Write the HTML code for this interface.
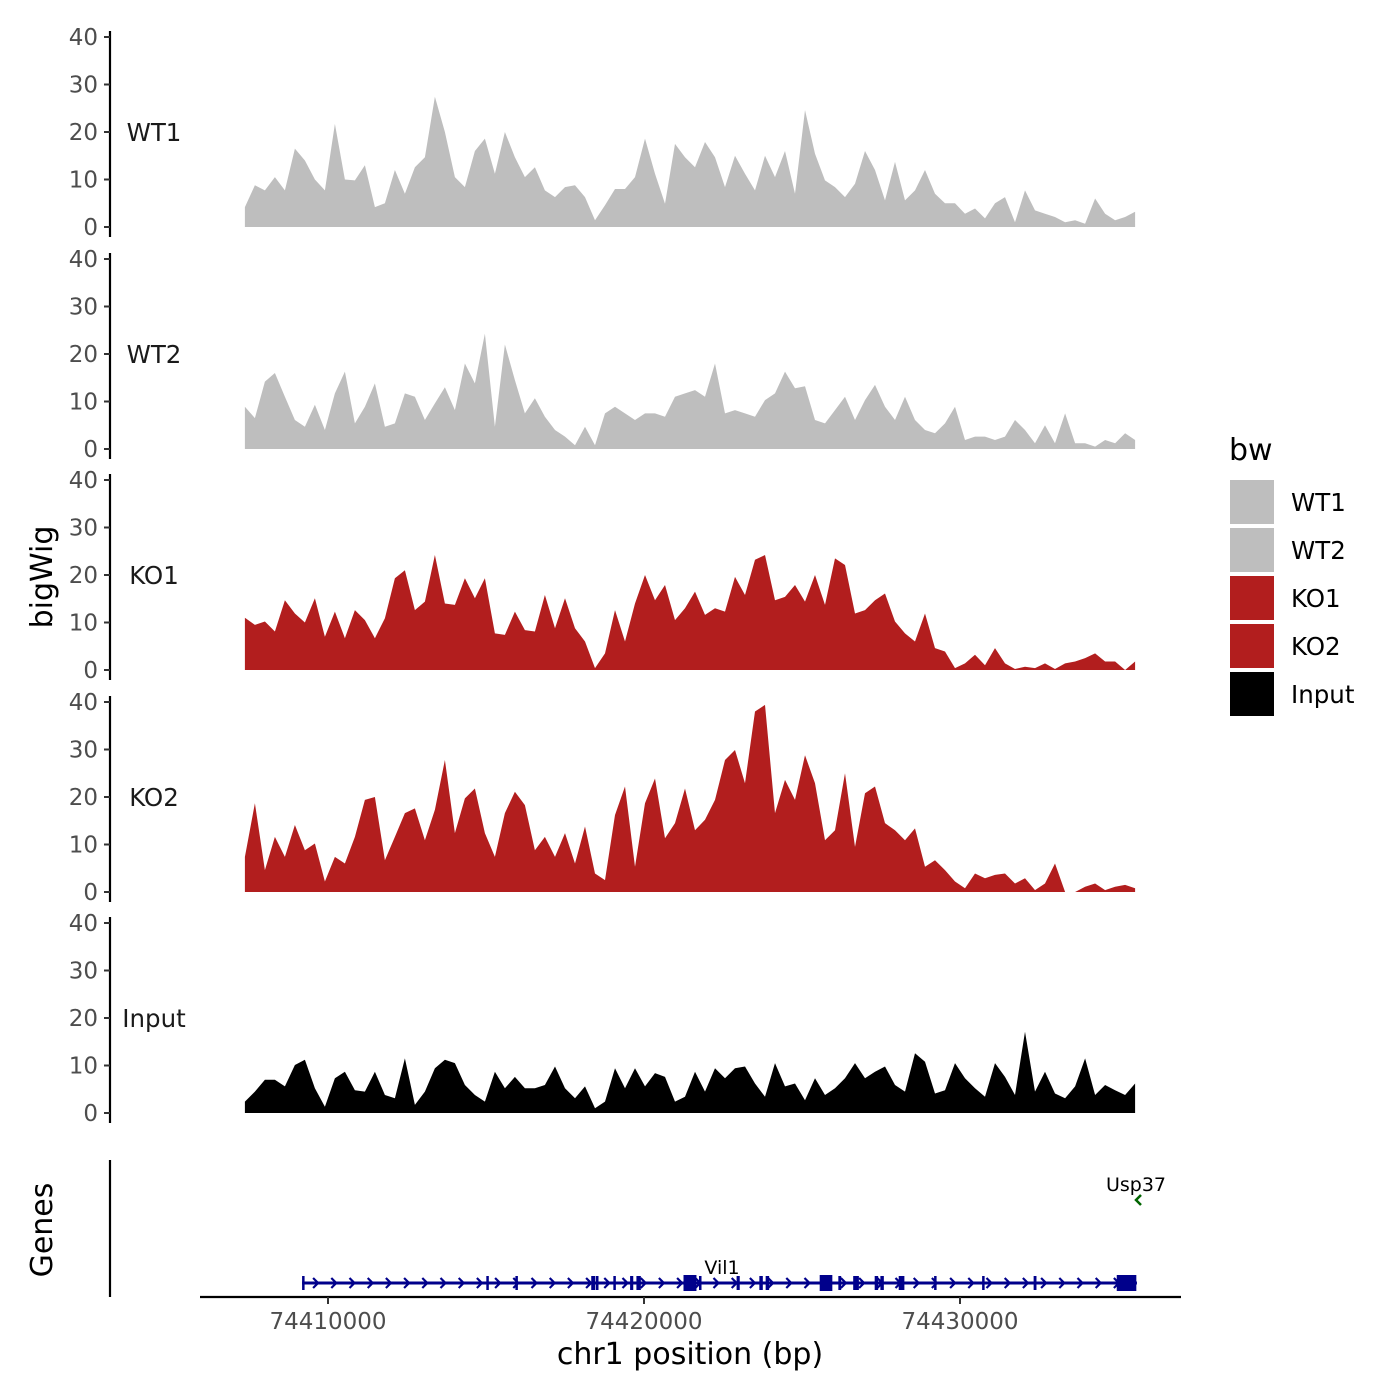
<!DOCTYPE html>
<html><head><meta charset="utf-8"><style>
html,body{margin:0;padding:0;background:#fff;}
svg{display:block;font-family:"DejaVu Sans","Liberation Sans",sans-serif;}
</style></head><body>
<svg id="chart" width="1400" height="1400" viewBox="0 0 1400 1400" xmlns="http://www.w3.org/2000/svg">
<rect width="1400" height="1400" fill="#fff"/>
<text x="0" y="0" transform="translate(52,577) rotate(-90)" font-size="30" text-anchor="middle" fill="#000">bigWig</text>
<text x="0" y="0" transform="translate(52,1230) rotate(-90)" font-size="30" text-anchor="middle" fill="#000">Genes</text>
<text x="690" y="1364" font-size="30" text-anchor="middle" fill="#000">chr1 position (bp)</text>
<g id="tracks"></g>
<g id="genes"></g>
<g id="xaxis"></g>
<g id="legend">
<text x="1229" y="460" font-size="30" fill="#000">bw</text>
</g>
</svg>
<script>
const trackNames = ["WT1","WT2","KO1","KO2","Input"];
const trackColors = ["#bebebe","#bebebe","#b21e1e","#b21e1e","#000000"];
const posStart = 74407370;
const posEnd = 74435540;
const yTicks = [0,10,20,30,40];
const xTicks = [74410000,74420000,74430000];
const xTickLabels = ["74410000","74420000","74430000"];
const wt1 = [4.2,8.8,7.7,10.5,7.7,16.5,14,10,7.7,21.7,10,9.8,13,4.2,5,12,7,12.6,14.7,27.4,20,10.5,8.4,16,18.6,11.2,20,14.7,10.5,12.6,7.7,6.3,8.4,8.8,6.3,1.4,4.6,8,8,10.5,18.6,11.2,4.9,17.5,14.7,12.6,17.9,14.7,8.4,15,11.2,7.7,15,10.5,16,7,24.6,15.4,9.8,8.4,6.3,9.1,16,12,5.6,13.7,5.6,7.7,12,7,5,5,2.8,3.9,1.8,5,6.3,1,7.7,3.5,2.8,2.1,1,1.4,0.7,6,2.8,1.4,2.1,3.2];
const wt2 = [8.9,6.5,14.2,16,11,6.1,4.7,9.3,4,11.7,16.3,5.4,8.9,13.8,4.7,5.4,11.7,11,6.1,9.6,13,8.2,18,13.8,24.3,4.7,22,14.5,7.5,10.7,6.8,4,2.6,0.8,4.7,0.8,7.5,8.9,7.5,6.1,7.5,7.5,6.8,11,11.7,12.4,11,18,7.5,8.2,7.5,6.8,10.3,11.7,16.3,12.8,13.2,6.1,5.4,8.2,11,6.1,10.3,13.5,8.9,6.1,11,6.1,4,3.3,5.4,8.9,1.9,2.6,2.6,1.9,2.6,6.1,4,1.2,5,1.2,7.5,1.2,1.2,0.5,1.9,1.2,3.3,1.9];
const ko1 = [11,9.5,10.2,8.1,14.7,11.9,10,15.1,7,12.3,6.7,12.6,10.5,6.7,10.9,19.3,21,12.6,14.4,24.2,14,13.7,19.3,15.1,19.3,7.7,7.4,12.3,8.4,8.1,15.8,8.8,15.1,8.8,6,0.4,3.5,12.6,6,14,20,14.7,17.9,10.5,13,16.5,11.6,13,12.3,19.6,15.8,23.2,24.2,14.7,15.4,17.9,14.4,20,13.7,23.5,22.1,11.9,12.6,14.7,16.1,10.2,7.7,6,11.9,4.6,3.9,0.4,1.4,3.2,1,4.6,1.4,0.2,0.7,0.4,1.4,0.2,1.4,1.8,2.5,3.5,1.8,1.8,0,1.8];
const ko2 = [7.4,18.7,4.6,11.6,7.4,14.1,8.8,10.2,2.2,7.4,6,11.6,19.4,20,6.7,11.6,16.6,17.6,10.9,17.3,27.8,12.4,19.7,21.8,12.4,7.4,16.6,21.1,18.3,8.8,11.6,7.4,12.4,6,13.8,3.9,2.5,16.2,22.2,5.3,18.7,23.9,11.3,14.5,21.8,13,15.2,19.4,27.8,29.9,22.9,38,39.4,16.6,23.6,19.4,28.8,22.9,10.9,13,25,9.5,20.8,22.2,14.5,13,10.9,13.4,5.3,6.7,4.6,2.2,0.8,3.9,2.9,3.6,3.9,1.8,2.9,0.4,1.8,6,0,0,1.1,1.8,0.4,1.1,1.5,0.8];
const input = [2.4,4.5,7,7,5.6,10.1,11.2,5.2,1.3,7.3,8.7,4.8,4.5,8.7,3.8,3.1,11.5,1.7,4.5,9.4,11.2,10.5,5.9,3.8,2.4,8.7,5.2,7.6,5.2,5.2,5.9,9.8,5.2,3.1,5.6,1,2.4,9.4,5.2,9.4,5.6,8.4,7.6,2.4,3.4,8.7,4.5,9.4,7.3,9.4,9.8,6.2,3.4,10.5,5.6,6.2,2.7,7.3,3.8,5.2,7.3,10.5,7.3,8.7,9.8,5.9,4.5,12.6,10.8,4.1,4.8,10.5,7.3,5.2,3.4,10.5,7.6,3.8,17.1,4.5,8.7,4.1,3.1,5.6,11.5,3.8,5.9,4.8,3.8,6.2];
const exonStarts = [74409180,74415010,74415930,74418330,74418480,74419030,74419560,74419760,74421250,74421740,74422930,74423650,74423850,74425560,74426150,74426620,74427300,74427480,74428060,74429180,74430700,74432330,74434960];
const exonEnds   = [74409250,74415060,74415980,74418460,74418560,74419080,74419660,74419900,74421660,74421820,74423030,74423760,74423960,74425960,74426240,74426800,74427410,74427590,74428240,74429240,74430760,74432420,74435580];
const geneStart = 74409180, geneEnd = 74435600;
const trackSeries = [wt1,wt2,ko1,ko2,input];

const NS="http://www.w3.org/2000/svg";
function mk(tag, attrs, parent){const e=document.createElementNS(NS,tag);for(const k in attrs)e.setAttribute(k,attrs[k]);parent.appendChild(e);return e;}
function xScale(bp){return 328 + (bp-74410000)*0.0316;}
const panelZero = [227,449,670,892,1113];
const pxPerUnit = 4.75;
const tracksG = document.getElementById('tracks');
trackNames.forEach((name,ti)=>{
  const y0 = panelZero[ti];
  const yS = v => y0 - v*pxPerUnit;
  const g = mk('g',{},tracksG);
  
  
  const ax = mk('line',{x1:110,x2:110,y1:yS(40)-6,y2:y0+10,stroke:'#000','stroke-width':2.2},g);
  
  
  yTicks.forEach(t=>{
    mk('line',{x1:104,x2:110,y1:yS(t),y2:yS(t),stroke:'#333','stroke-width':2},g);
    const tl = mk('text',{x:98,y:yS(t)+8,'font-size':23,'text-anchor':'end',fill:'#4d4d4d'},g);
    tl.textContent = t;
    
    
  });
  const lab = mk('text',{x:154,y:yS(20)+9,'font-size':24.5,'text-anchor':'middle',fill:'#1a1a1a'},g);
  lab.textContent = name;
  
  
  const vals = trackSeries[ti];
  const n = vals.length;
  let d = 'M'+xScale(posStart).toFixed(1)+','+y0;
  vals.forEach((v,i)=>{
    const bp = posStart + i*(posEnd-posStart)/(n-1);
    d += ' L'+xScale(bp).toFixed(1)+','+yS(v).toFixed(1);
  });
  d += ' L'+xScale(posEnd).toFixed(1)+','+y0+' Z';
  const area = mk('path',{d:d,fill:trackColors[ti]},g);
  
  
});

// genes
const gg = document.getElementById('genes');
mk('line',{x1:110,x2:110,y1:1160,y2:1297,stroke:'#000','stroke-width':2.2},gg);
const gy = 1283;
const gl = mk('line',{x1:xScale(geneStart),x2:xScale(geneEnd),y1:gy,y2:gy,stroke:'#00008b','stroke-width':3},gg);


for(let x=xScale(geneStart)+14; x<xScale(geneEnd)-8; x+=18.2){
  mk('path',{d:`M${x-3},${gy-5} L${x+2},${gy} L${x-3},${gy+5}`,stroke:'#00008b','stroke-width':2.2,fill:'none'},gg);
}
exonStarts.forEach((s,i)=>{
  const x1=xScale(s), x2=xScale(exonEnds[i]);
  const w = Math.max(x2-x1,2.5);
  const big = w>6;
  const ex = mk('rect',{x:x1,y:big?gy-8:gy-7,width:w,height:big?16:14,fill:'#00008b'},gg);
  
  
});
const v1 = mk('text',{x:722,y:1274,'font-size':19,'text-anchor':'middle',fill:'#000'},gg);
v1.textContent='Vil1';


const u1 = mk('text',{x:1136,y:1191,'font-size':19,'text-anchor':'middle',fill:'#000'},gg);
u1.textContent='Usp37';


const uc = mk('path',{d:'M1141,1195 L1136,1200 L1141,1205',stroke:'#006400','stroke-width':2.5,fill:'none'},gg);



// x axis
const xa = document.getElementById('xaxis');
const xl = mk('line',{x1:200,x2:1181,y1:1297,y2:1297,stroke:'#000','stroke-width':2.2},xa);


xTicks.forEach((t,i)=>{
  mk('line',{x1:xScale(t),x2:xScale(t),y1:1297,y2:1304,stroke:'#333','stroke-width':2},xa);
  const tl = mk('text',{x:xScale(t),y:1329,'font-size':23,'text-anchor':'middle',fill:'#4d4d4d'},xa);
  tl.textContent = xTickLabels[i];
  
  
});

// legend
const lg = document.getElementById('legend');
trackNames.forEach((name,i)=>{
  const y = 480 + i*48;
  const r = mk('rect',{x:1230,y:y,width:44,height:44,fill:trackColors[i]},lg);
  
  
  const t = mk('text',{x:1291,y:y+31,'font-size':24.5,fill:'#000'},lg);
  t.textContent = name;
  
  
});
</script>
</body></html>
